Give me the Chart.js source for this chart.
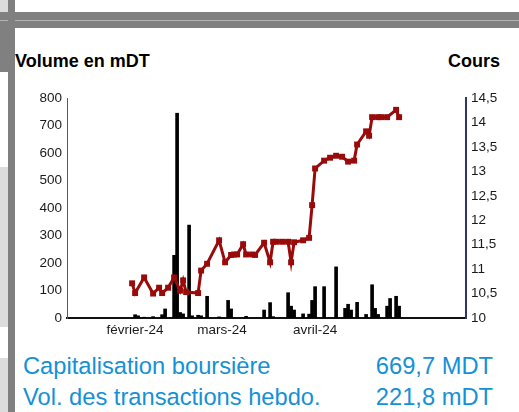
<!DOCTYPE html>
<html lang="fr">
<head>
    <meta charset="UTF-8">
    <title>Volume et cours</title>
    <script src="https://cdn.jsdelivr.net/npm/chart.js"></script>
    <style>
        body {
            margin: 0;
            width: 519px;
            height: 412px;
            overflow: hidden;
            background: #fff;
            font-family: "Liberation Sans", Arial, sans-serif;
            position: relative;
        }
        .blk { position: absolute; }
        .title {
            position: absolute;
            font-weight: bold;
            font-size: 18px;
            line-height: 18px;
            color: #000;
        }
        .info {
            position: absolute;
            font-size: 23.7px;
            line-height: 23.7px;
            color: #1591d5;
            white-space: nowrap;
        }
        canvas { position: absolute; left: 15px; top: 85px; }
    </style>
</head>
<body>

<!-- page frame -->
<div class="blk" style="left:0;top:0;width:8px;height:12px;background:#dcdcdc"></div>
<div class="blk" style="left:0;top:12px;width:519px;height:16px;background:#808080"></div>
<div class="blk" style="left:0;top:20px;width:519px;height:1px;background:#b4b4b4"></div>
<div class="blk" style="left:0;top:28px;width:8px;height:44px;background:#808080"></div>
<div class="blk" style="left:0;top:167px;width:8px;height:160px;background:#dcdcdc"></div>
<div class="blk" style="left:0;top:358px;width:8px;height:54px;background:#dcdcdc"></div>
<div class="blk" style="left:8px;top:0;width:7px;height:412px;background:#808080"></div>

<div class="title" style="left:15px;top:52px">Volume en mDT</div>
<div class="title" style="right:19px;top:52px">Cours</div>

<canvas id="chart" width="504" height="260"></canvas>

<div class="info" style="left:23px;top:355px">Capitalisation boursière</div>
<div class="info" style="right:26px;top:355px">669,7 MDT</div>
<div class="info" style="left:23px;top:386px">Vol. des transactions hebdo.</div>
<div class="info" style="right:26px;top:386px">221,8 mDT</div>

<script>
    // volume quotidien (mDT)
    const volDates = ['2024-02-01', '2024-02-02', '2024-02-04', '2024-02-07', '2024-02-10', '2024-02-11',
        '2024-02-14', '2024-02-15', '2024-02-16', '2024-02-17', '2024-02-19', '2024-02-20',
        '2024-02-22', '2024-02-23', '2024-02-25', '2024-02-29', '2024-03-03', '2024-03-04',
        '2024-03-09', '2024-03-15', '2024-03-17', '2024-03-18', '2024-03-23', '2024-03-24',
        '2024-03-25', '2024-03-28', '2024-03-30', '2024-03-31', '2024-04-01', '2024-04-04',
        '2024-04-08', '2024-04-11', '2024-04-12', '2024-04-13', '2024-04-15', '2024-04-18',
        '2024-04-20', '2024-04-21', '2024-04-22', '2024-04-25', '2024-04-26', '2024-04-28',
        '2024-04-29'];
    const volValues = [12, 8, 3, 5, 12, 33,
        228, 745, 20, 15, 338, 8,
        10, 8, 79, 4, 64, 33,
        6, 29, 56, 5, 92, 43,
        29, 15, 14, 64, 114, 114,
        186, 35, 50, 29, 57, 13,
        121, 35, 13, 43, 71, 79,
        43];

    // cours de cloture
    const priceDates = ['2024-01-31', '2024-02-01', '2024-02-04', '2024-02-07', '2024-02-09', '2024-02-10',
        '2024-02-12', '2024-02-14', '2024-02-16', '2024-02-17', '2024-02-18', '2024-02-22',
        '2024-02-23', '2024-02-25', '2024-02-29', '2024-03-02', '2024-03-04', '2024-03-05',
        '2024-03-06', '2024-03-08', '2024-03-09', '2024-03-11', '2024-03-12', '2024-03-15',
        '2024-03-17', '2024-03-18', '2024-03-19', '2024-03-21', '2024-03-23', '2024-03-24',
        '2024-03-25', '2024-03-28', '2024-03-30', '2024-03-31', '2024-04-01', '2024-04-04',
        '2024-04-06', '2024-04-08', '2024-04-10', '2024-04-12', '2024-04-14', '2024-04-15',
        '2024-04-18', '2024-04-19', '2024-04-20', '2024-04-22', '2024-04-23', '2024-04-25',
        '2024-04-28', '2024-04-29'];
    const priceValues = [10.71, 10.51, 10.83, 10.50, 10.62, 10.51,
        10.62, 10.83, 10.56, 10.77, 10.53, 10.51,
        10.97, 11.11, 11.59, 11.14, 11.29, 11.30,
        11.30, 11.51, 11.30, 11.30, 11.29, 11.54,
        11.14, 11.56, 11.56, 11.56, 11.56, 11.14,
        11.55, 11.59, 11.64, 12.31, 13.06, 13.22,
        13.28, 13.32, 13.30, 13.20, 13.22, 13.55,
        13.82, 13.73, 14.11, 14.11, 14.11, 14.11,
        14.26, 14.11];

    // axes
    const monthDates = ['2024-02-01', '2024-03-01', '2024-04-01'];
    const monthLabels = ['février-24', 'mars-24', 'avril-24'];
    const volTicks = [0, 100, 200, 300, 400, 500, 600, 700, 800];
    const priceTicks = [10, 10.5, 11, 11.5, 12, 12.5, 13, 13.5, 14, 14.5];

    const t0 = Date.parse('2024-01-01');
    const day = d => (Date.parse(d) - t0) / 864e5;

    const tickFont = { family: '"Liberation Sans", Arial, sans-serif', size: 13.5 };

    new Chart(document.getElementById('chart'), {
        type: 'bar',
        data: {
            datasets: [{
                type: 'line',
                data: priceDates.map((d, i) => ({ x: day(d), y: priceValues[i] })),
                yAxisID: 'y1',
                borderColor: '#990b0b',
                backgroundColor: '#990b0b',
                borderWidth: 3,
                tension: 0,
                pointStyle: 'rect',
                pointRadius: 4.2,
                pointBorderWidth: 0,
                order: 0
            }, {
                data: volDates.map((d, i) => ({ x: day(d), y: volValues[i] })),
                yAxisID: 'y',
                backgroundColor: '#000',
                barThickness: 3,
                order: 1
            }]
        },
        options: {
            responsive: false,
            devicePixelRatio: 1,
            animation: false,
            layout: { padding: { top: 9, left: 0, right: 0, bottom: 0 } },
            plugins: { legend: { display: false }, tooltip: { enabled: false } },
            scales: {
                x: {
                    type: 'linear',
                    min: 8.3,
                    max: 141.3,
                    offset: false,
                    grid: { display: false, drawTicks: false, offset: false },
                    border: { color: '#111', width: 2 },
                    afterBuildTicks: s => { s.ticks = monthDates.map(d => ({ value: day(d) })); },
                    afterFit: s => { s.height = 27; },
                    ticks: {
                        padding: 4,
                        color: '#1a1a1a',
                        font: tickFont,
                        maxRotation: 0,
                        autoSkip: false,
                        callback: (v, i) => monthLabels[i]
                    }
                },
                y: {
                    position: 'left',
                    min: 0,
                    max: 800,
                    grid: { display: false, drawTicks: false },
                    border: { color: '#4656a6', width: 1 },
                    afterBuildTicks: s => { s.ticks = volTicks.map(v => ({ value: v })); },
                    afterFit: s => { s.width = 52; },
                    ticks: { padding: 5, color: '#1a1a1a', font: tickFont }
                },
                y1: {
                    position: 'right',
                    min: 10,
                    max: 14.5,
                    grid: { display: false, drawTicks: false },
                    border: { color: '#2e3670', width: 2 },
                    afterBuildTicks: s => { s.ticks = priceTicks.map(v => ({ value: v })); },
                    afterFit: s => { s.width = 53; },
                    ticks: {
                        padding: 5,
                        color: '#1a1a1a',
                        font: tickFont,
                        callback: v => String(v).replace('.', ',')
                    }
                }
            }
        }
    });
</script>

</body>
</html>
